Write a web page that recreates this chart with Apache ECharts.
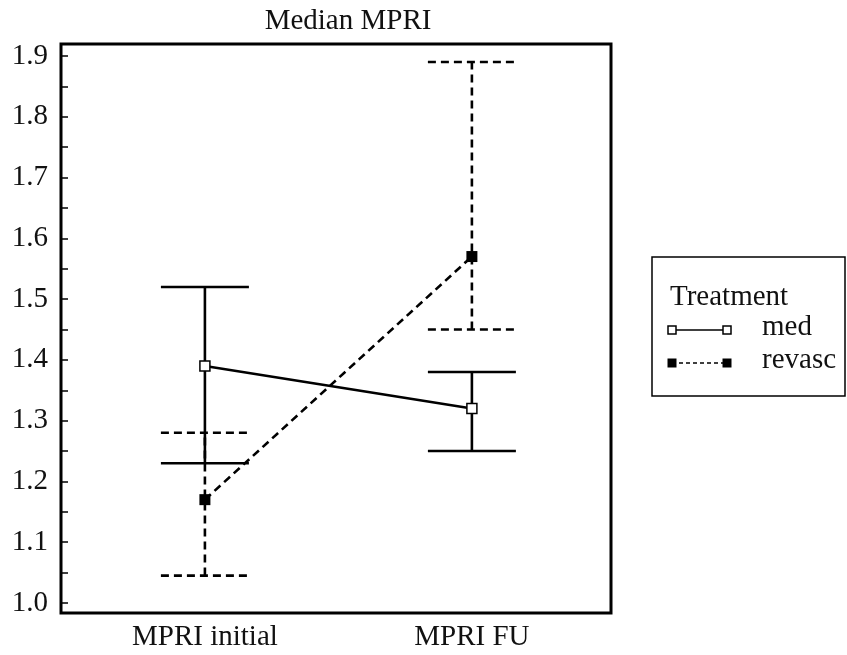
<!DOCTYPE html>
<html lang="en">
<head>
    <meta charset="UTF-8">
    <title>Median MPRI</title>
    <style>
        html, body { margin: 0; padding: 0; background: #fff; }
        #main { width: 847px; height: 655px; }
    </style>
</head>
<body>
<div id="main"></div>
<script src="https://cdn.jsdelivr.net/npm/echarts@6/dist/echarts.min.js"></script>
<script>
    // categories on x (positions 0 and 1)
    var categories = ['MPRI initial', 'MPRI FU'];
    var seriesNames = ['med', 'revasc'];
    // medians
    var medMedian = [1.39, 1.32];
    var revascMedian = [1.17, 1.57];
    // error bar ends
    var medLow = [1.23, 1.25];
    var medHigh = [1.52, 1.38];
    var revascLow = [1.045, 1.45];
    var revascHigh = [1.28, 1.89];
    // y tick labels
    var yTicks = [1.0, 1.1, 1.2, 1.3, 1.4, 1.5, 1.6, 1.7, 1.8, 1.9];
    var yMinorTicks = [1.05, 1.15, 1.25, 1.35, 1.45, 1.55, 1.65, 1.75, 1.85];

    var serif = '"Liberation Serif", "DejaVu Serif", serif';
    var fs = 29;

    function pts(vals) {
        return vals.map(function (v, i) { return [i, v]; });
    }
    function bars(low, high) {
        return low.map(function (v, i) { return [i, v, high[i]]; });
    }

    // error bar: vertical line + two caps
    function errorBar(dashed) {
        return function (params, api) {
            var x = api.value(0);
            var lo = api.coord([x, api.value(1)]);
            var hi = api.coord([x, api.value(2)]);
            var half = 44;
            var style = {stroke: '#000', lineWidth: 2.6, lineDash: dashed ? [8, 5] : null};
            return {
                type: 'group',
                children: [
                    {type: 'line', shape: {x1: lo[0], y1: lo[1], x2: hi[0], y2: hi[1]}, style: style},
                    {type: 'line', shape: {x1: lo[0] - half, y1: lo[1], x2: lo[0] + half, y2: lo[1]}, style: style},
                    {type: 'line', shape: {x1: hi[0] - half, y1: hi[1], x2: hi[0] + half, y2: hi[1]}, style: style}
                ]
            };
        };
    }

    var chart = echarts.init(document.getElementById('main'));

    // legend drawn by hand (squares at both ends of the sample line)
    var lx1 = 672, lx2 = 727;
    var legendGraphic = [
        {type: 'rect', shape: {x: 652, y: 257, width: 193, height: 139},
            style: {fill: '#fff', stroke: '#000', lineWidth: 1.5}},
        {type: 'text', x: 670, y: 297, style: {text: 'Treatment', font: fs + 'px ' + serif, fill: '#111', verticalAlign: 'middle'}},
        {type: 'line', shape: {x1: lx1, y1: 330, x2: lx2, y2: 330}, style: {stroke: '#000', lineWidth: 1.5}},
        {type: 'rect', shape: {x: lx1 - 4, y: 326, width: 8, height: 8}, style: {fill: '#fff', stroke: '#000', lineWidth: 1.5}},
        {type: 'rect', shape: {x: lx2 - 4, y: 326, width: 8, height: 8}, style: {fill: '#fff', stroke: '#000', lineWidth: 1.5}},
        {type: 'text', x: 762, y: 327, style: {text: seriesNames[0], font: fs + 'px ' + serif, fill: '#111', verticalAlign: 'middle'}},
        {type: 'line', shape: {x1: lx1, y1: 363, x2: lx2, y2: 363}, style: {stroke: '#000', lineWidth: 1.5, lineDash: [4, 3]}},
        {type: 'rect', shape: {x: lx1 - 4.5, y: 358.5, width: 9, height: 9}, style: {fill: '#000'}},
        {type: 'rect', shape: {x: lx2 - 4.5, y: 358.5, width: 9, height: 9}, style: {fill: '#000'}},
        {type: 'text', x: 762, y: 360, style: {text: seriesNames[1], font: fs + 'px ' + serif, fill: '#111', verticalAlign: 'middle'}}
    ];

    var option = {
        animation: false,
        backgroundColor: '#fff',
        title: {
            text: 'Median MPRI',
            left: 343,
            textAlign: 'center',
            top: 2,
            textStyle: {fontFamily: serif, fontSize: fs, fontWeight: 'normal', color: '#111'}
        },
        grid: {
            left: 61, top: 44, right: 236, bottom: 42,
            show: true, borderColor: '#000', borderWidth: 3,
            containLabel: false
        },
        xAxis: {
            type: 'value',
            min: -0.539,
            max: 1.521,
            axisLine: {show: false, onZero: false},
            axisTick: {show: false},
            splitLine: {show: false},
            axisLabel: {
                customValues: [0, 1],
                formatter: function (v) { return categories[Math.round(v)]; },
                fontFamily: serif, fontSize: fs, color: '#111', margin: 10
            }
        },
        yAxis: {
            type: 'value',
            min: 0.9835,
            max: 1.9197,
            axisLine: {show: false, onZero: false},
            splitLine: {show: false},
            axisTick: {
                inside: true, length: 7,
                customValues: yTicks.concat(yMinorTicks),
                lineStyle: {color: '#000', width: 1.5}
            },
            axisLabel: {
                customValues: yTicks,
                formatter: function (v) { return v.toFixed(1); },
                fontFamily: serif, fontSize: fs, color: '#111', margin: 13
            }
        },
        graphic: legendGraphic,
        series: [
            {
                type: 'custom', name: 'med bars',
                renderItem: errorBar(false),
                data: bars(medLow, medHigh), z: 2
            },
            {
                type: 'custom', name: 'revasc bars',
                renderItem: errorBar(true),
                data: bars(revascLow, revascHigh), z: 2
            },
            {
                type: 'line', name: seriesNames[0],
                data: pts(medMedian),
                symbol: 'rect', symbolSize: 10, showAllSymbol: true,
                lineStyle: {color: '#000', width: 2.6},
                itemStyle: {color: '#fff', borderColor: '#000', borderWidth: 1.5},
                z: 3
            },
            {
                type: 'line', name: seriesNames[1],
                data: pts(revascMedian),
                symbol: 'rect', symbolSize: 11, showAllSymbol: true,
                lineStyle: {color: '#000', width: 2.6, type: [8, 5]},
                itemStyle: {color: '#000', borderColor: '#000', borderWidth: 0},
                z: 3
            }
        ]
    };
    chart.setOption(option);
</script>
</body>
</html>
